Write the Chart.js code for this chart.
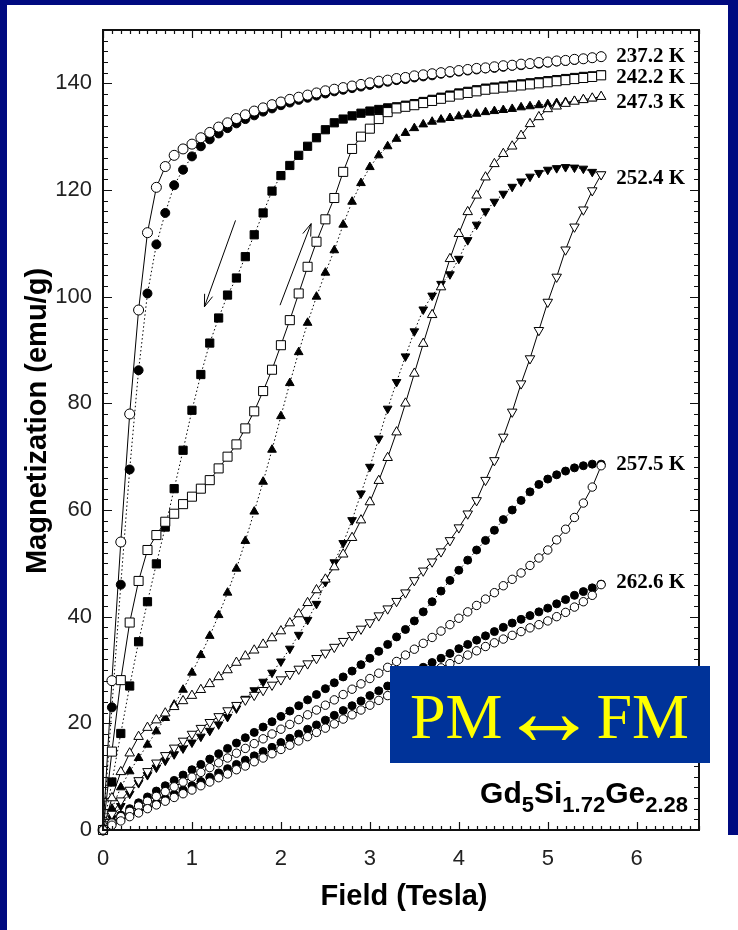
<!DOCTYPE html>
<html>
<head>
<meta charset="utf-8">
<script src="https://cdn.jsdelivr.net/npm/chart.js@4.4.1/dist/chart.umd.min.js"></script>
<style>
  body { margin: 0; background: #fff; }
  #wrap { position: relative; width: 738px; height: 930px; overflow: hidden; background: #fff; }
  .edge { position: absolute; background: #000a80; }
</style>
</head>
<body>
<div id="wrap">
  <canvas id="chart" width="738" height="930"></canvas>
  <div class="edge" style="left:0;top:0;width:738px;height:5px"></div>
  <div class="edge" style="left:0;top:0;width:7px;height:930px"></div>
  <div class="edge" style="left:728px;top:0;width:10px;height:835px"></div>
</div>
<script>
// applied field (Tesla), same grid for every branch
const field = [0, 0.1, 0.2, 0.3, 0.4, 0.5, 0.6, 0.7, 0.8, 0.9,
  1.0, 1.1, 1.2, 1.3, 1.4, 1.5, 1.6, 1.7, 1.8, 1.9,
  2.0, 2.1, 2.2, 2.3, 2.4, 2.5, 2.6, 2.7, 2.8, 2.9,
  3.0, 3.1, 3.2, 3.3, 3.4, 3.5, 3.6, 3.7, 3.8, 3.9,
  4.0, 4.1, 4.2, 4.3, 4.4, 4.5, 4.6, 4.7, 4.8, 4.9,
  5.0, 5.1, 5.2, 5.3, 5.4, 5.5, 5.6];

// magnetization (emu/g): "Up" = open symbols, solid line; "Down" = filled symbols, dotted line
const m237Up = [0, 28, 54, 78, 97.5, 112, 120.5, 124.4, 126.5, 127.7,
  128.6, 129.8, 130.8, 131.8, 132.6, 133.4, 134.1, 134.8, 135.4, 136,
  136.5, 137, 137.4, 137.8, 138.2, 138.6, 138.9, 139.2, 139.5, 139.8,
  140.1, 140.4, 140.6, 140.9, 141.1, 141.4, 141.6, 141.8, 142, 142.2,
  142.4, 142.6, 142.8, 142.9, 143.1, 143.3, 143.4, 143.6, 143.7, 143.9,
  144, 144.2, 144.3, 144.5, 144.6, 144.8, 145];
const m237Down = [0, 23, 46, 67.6, 86.2, 100.6, 109.8, 115.7, 120.9, 123.8,
  126.3, 128.2, 129.5, 130.6, 131.6, 132.5, 133.3, 134, 134.7, 135.3,
  135.9, 136.4, 136.9, 137.3, 137.7, 138.1, 138.5, 138.8, 139.1, 139.4,
  139.7, 140, 140.3, 140.6, 140.8, 141.1, 141.3, 141.5, 141.8, 142,
  142.2, 142.4, 142.6, 142.8, 142.9, 143.1, 143.3, 143.4, 143.6, 143.7,
  143.9, 144.1, 144.2, 144.4, 144.6, 144.8, 145];
const m242Up = [0, 14.7, 28.1, 38.9, 46.7, 52.5, 55.3, 57.8, 59.3, 61.1,
  62.5, 64, 65.6, 67.8, 70, 72.3, 75.3, 78.5, 82.3, 86.3,
  90.9, 95.6, 100.6, 105.6, 110.3, 114.5, 118.5, 123.4, 127.7, 130,
  131.5, 133.3, 134.6, 135.3, 135.6, 135.9, 136.3, 136.7, 137.1, 137.5,
  137.9, 138.2, 138.5, 138.8, 139, 139.2, 139.4, 139.6, 139.8, 140,
  140.2, 140.4, 140.6, 140.8, 141, 141.2, 141.5];
const m242Down = [0, 9, 18.1, 27, 35.3, 42.8, 49.9, 56.8, 64, 71.2,
  78.7, 85.4, 91.3, 96, 100.3, 103.5, 107.5, 111.6, 115.7, 119.8,
  122.7, 124.6, 126.5, 128.2, 129.8, 131.3, 132.6, 133.3, 133.9, 134.4,
  134.8, 135.1, 135.4, 135.6, 135.9, 136.2, 136.6, 137, 137.4, 137.8,
  138.2, 138.5, 138.8, 139.1, 139.3, 139.5, 139.7, 139.9, 140.1, 140.3,
  140.5, 140.7, 140.9, 141.1, 141.3, 141.4, 141.6];
const m247Up = [0, 6, 10.9, 14.4, 17.5, 19.2, 20.6, 21.9, 23.1, 24.2,
  25.2, 26.3, 27.4, 28.7, 30, 31.4, 32.6, 33.7, 34.8, 36,
  37.3, 38.8, 40.5, 42.6, 45, 47, 49.3, 51.7, 54.8, 58.1,
  61.5, 65.5, 69.8, 74.6, 80, 85.6, 91.2, 96.6, 101.8, 107.1,
  111.8, 115.9, 119, 122.4, 124.9, 126.8, 128.2, 130.2, 132.4, 133.7,
  135.2, 135.7, 136.2, 136.6, 136.9, 137.2, 137.5];
const m247Down = [0, 4, 8, 11, 13.5, 16, 18.5, 21, 23.5, 26.3,
  29.5, 32.8, 36.4, 40.3, 44.5, 49, 54.2, 59.7, 65.3, 71.3,
  77.6, 83.8, 89.6, 95.1, 100, 104.5, 108.7, 113.5, 117.8, 121.3,
  124.3, 126.5, 128.2, 129.6, 130.7, 131.6, 132.3, 132.8, 133.2, 133.5,
  133.8, 134.1, 134.3, 134.6, 134.8, 135, 135.2, 135.5, 135.7, 135.9,
  136.1, 136.3, 136.5, 136.7, 137, 137.2, 137.5];
const m252Up = [0, 3, 5.5, 7.5, 9.3, 11, 12.6, 14, 15.4, 16.7,
  18, 19.1, 20.2, 21.3, 22.4, 23.4, 24.4, 25.3, 26.2, 27.2,
  28.2, 29.2, 30.2, 31.2, 32.2, 33.2, 34.3, 35.4, 36.5, 37.7,
  38.9, 40.2, 41.5, 42.9, 44.5, 46.8, 48.6, 50.3, 52.2, 54.3,
  56.7, 59.3, 61.8, 65.6, 69.3, 73.7, 78.4, 83.7, 88.4, 93.7,
  99, 103.7, 108.8, 113.1, 116.3, 119.9, 122.9];
const m252Down = [0, 2.2, 4.5, 6.8, 8.8, 10.3, 11.7, 13, 14.2, 15.3,
  16.4, 17.5, 18.6, 19.8, 21.2, 22.8, 24.6, 26.2, 27.8, 29.5,
  31.6, 34, 36.6, 39.4, 42.4, 46.5, 50.2, 53.8, 58.1, 63.1,
  68.1, 73.4, 79, 84, 88.8, 93.5, 97.6, 100.2, 102.4, 104.2,
  107.1, 110.6, 113.5, 116, 117.8, 119.3, 120.6, 121.6, 122.5, 123.2,
  123.8, 124.1, 124.3, 124.2, 124, 123.4, 122.9];
const m257Up = [0, 1.3, 2.5, 3.5, 4.5, 5.4, 6.3, 7.2, 8.1, 9,
  9.9, 10.8, 11.7, 12.6, 13.5, 14.4, 15.3, 16.2, 17.1, 18,
  18.9, 19.8, 20.7, 21.6, 22.5, 23.4, 24.4, 25.4, 26.4, 27.4,
  28.4, 29.4, 30.5, 31.6, 32.8, 33.9, 35, 36.1, 37.3, 38.5,
  39.7, 40.9, 42.1, 43.3, 44.5, 45.8, 47, 48.2, 49.6, 51,
  52.5, 54.4, 56.4, 58.6, 61.3, 64.3, 68.3];
const m257Down = [0, 1.5, 2.8, 4, 5.1, 6.2, 7.3, 8.3, 9.3, 10.3,
  11.3, 12.3, 13.3, 14.3, 15.3, 16.3, 17.3, 18.3, 19.3, 20.3,
  21.3, 22.3, 23.3, 24.4, 25.4, 26.5, 27.6, 28.7, 29.8, 31,
  32.2, 33.5, 34.8, 36.2, 37.6, 39.2, 40.9, 42.8, 44.8, 46.8,
  48.7, 50.6, 52.5, 54.3, 56.2, 58.2, 60, 61.8, 63.4, 64.8,
  65.8, 66.6, 67.3, 67.9, 68.3, 68.6, 68.6];
const m262Up = [0, 0.9, 1.7, 2.5, 3.2, 4, 4.7, 5.4, 6.1, 6.8,
  7.5, 8.3, 9, 9.8, 10.5, 11.3, 12, 12.8, 13.5, 14.3,
  15.1, 15.9, 16.7, 17.5, 18.3, 19.1, 19.9, 20.8, 21.6, 22.5,
  23.4, 24.3, 25.2, 26.1, 27, 27.8, 28.7, 29.5, 30.4, 31.2,
  32, 32.8, 33.6, 34.4, 35.1, 35.8, 36.5, 37.2, 37.9, 38.5,
  39.2, 40, 40.8, 41.8, 42.8, 44, 46];
const m262Down = [0, 1, 1.9, 2.7, 3.5, 4.3, 5.1, 5.9, 6.7, 7.5,
  8.3, 9.1, 9.9, 10.7, 11.5, 12.3, 13.1, 13.9, 14.7, 15.5,
  16.4, 17.2, 18, 18.9, 19.7, 20.6, 21.5, 22.4, 23.3, 24.2,
  25.2, 26.1, 27, 27.9, 28.8, 29.7, 30.5, 31.4, 32.2, 33.1,
  34, 34.8, 35.6, 36.4, 37.2, 38, 38.8, 39.5, 40.2, 40.9,
  41.6, 42.4, 43.2, 44, 44.7, 45.4, 46.1];

const tempLabels = ['237.2 K', '242.2 K', '247.3 K', '252.4 K', '257.5 K', '262.6 K'];
const xTicks = [0, 1, 2, 3, 4, 5, 6];
const yTicks = [0, 20, 40, 60, 80, 100, 120, 140];

function branch(vals, symbol, size, open, rot) {
  return {
    data: vals.map((m, i) => ({ x: field[i], y: m })),
    showLine: true,
    borderColor: '#000',
    borderWidth: 1,
    borderDash: open ? [] : [1.5, 2.5],
    pointStyle: symbol,
    pointRadius: size,
    pointRotation: rot || 0,
    pointBackgroundColor: open ? '#fff' : '#000',
    pointBorderColor: '#000',
    pointBorderWidth: 1,
    order: open ? 0 : 1,
    clip: false
  };
}

const datasets = [
  branch(m262Down, 'circle', 4, false),
  branch(m262Up, 'circle', 4.2, true),
  branch(m257Down, 'circle', 4, false),
  branch(m257Up, 'circle', 4.2, true),
  branch(m252Down, 'triangle', 5, false, 180),
  branch(m252Up, 'triangle', 5.5, true, 180),
  branch(m247Down, 'triangle', 5, false),
  branch(m247Up, 'triangle', 5.5, true),
  branch(m242Down, 'rect', 5.8, false),
  branch(m242Up, 'rect', 6.4, true),
  branch(m237Down, 'circle', 4.5, false),
  branch(m237Up, 'circle', 5, true)
];

// label i sits at the end of this branch, nudged down by a few px
const labelEnds = [m237Up, m242Down, m247Down, m252Up, m257Down, m262Down];
const labelNudge = [0, 3, 6, 4, 0, -2];

// hysteresis arrows, in field / magnetization units
const arrows = [
  { from: [1.49, 114.3], to: [1.14, 98.1] },
  { from: [1.99, 98.4], to: [2.34, 113.7] }
];

const decor = {
  id: 'decor',
  afterDraw(chart) {
    const { ctx, chartArea: a, scales: { x, y } } = chart;
    ctx.save();

    // tick marks, inside on all four sides
    ctx.strokeStyle = '#111';
    ctx.lineWidth = 1.2;
    ctx.beginPath();
    for (let i = 0; i <= 67; i++) {
      const px = Math.round(x.getPixelForValue(i / 10)) + 0.5;
      const len = i % 10 === 0 ? 8 : 4;
      ctx.moveTo(px, a.bottom); ctx.lineTo(px, a.bottom - len);
      ctx.moveTo(px, a.top); ctx.lineTo(px, a.top + len);
    }
    for (let v = 0; v <= 150; v += 2) {
      const py = Math.round(y.getPixelForValue(v)) + 0.5;
      const len = v % 20 === 0 ? 9 : 5;
      ctx.moveTo(a.left, py); ctx.lineTo(a.left + len, py);
      ctx.moveTo(a.right, py); ctx.lineTo(a.right - len, py);
    }
    ctx.stroke();

    // frame
    ctx.lineWidth = 2;
    ctx.strokeRect(a.left, a.top, a.right - a.left, a.bottom - a.top);

    // arrows
    ctx.lineWidth = 1;
    ctx.strokeStyle = '#000';
    arrows.forEach(ar => {
      const x0 = x.getPixelForValue(ar.from[0]), y0 = y.getPixelForValue(ar.from[1]);
      const x1 = x.getPixelForValue(ar.to[0]), y1 = y.getPixelForValue(ar.to[1]);
      const ang = Math.atan2(y1 - y0, x1 - x0);
      ctx.beginPath();
      ctx.moveTo(x0, y0); ctx.lineTo(x1, y1);
      ctx.moveTo(x1 - 13 * Math.cos(ang - 0.33), y1 - 13 * Math.sin(ang - 0.33));
      ctx.lineTo(x1, y1);
      ctx.lineTo(x1 - 13 * Math.cos(ang + 0.33), y1 - 13 * Math.sin(ang + 0.33));
      ctx.stroke();
    });

    // temperature labels
    ctx.fillStyle = '#000';
    ctx.font = 'bold 21px "Liberation Serif"';
    ctx.textAlign = 'left';
    ctx.textBaseline = 'middle';
    tempLabels.forEach((t, i) => {
      const ends = labelEnds[i];
      const px = x.getPixelForValue(field[field.length - 1]) + 15;
      const py = y.getPixelForValue(ends[ends.length - 1]) + labelNudge[i];
      ctx.fillText(t, px, py);
    });

    // axis titles
    ctx.font = 'bold 29px "Liberation Sans"';
    ctx.textAlign = 'center';
    ctx.fillText('Field (Tesla)', 404, 897);
    ctx.save();
    ctx.translate(38, 421);
    ctx.rotate(-Math.PI / 2);
    ctx.fillText('Magnetization (emu/g)', 0, 0);
    ctx.restore();

    // compound
    ctx.textAlign = 'left';
    ctx.textBaseline = 'alphabetic';
    const parts = [['Gd', 0], ['5', 1], ['Si', 0], ['1.72', 1], ['Ge', 0], ['2.28', 1]];
    const big = 'bold 30px "Liberation Sans"', small = 'bold 22px "Liberation Sans"';
    let w = 0;
    parts.forEach(p => { ctx.font = p[1] ? small : big; w += ctx.measureText(p[0]).width; });
    let cx = 688 - w;
    parts.forEach(p => {
      ctx.font = p[1] ? small : big;
      ctx.fillText(p[0], cx, p[1] ? 812 : 803);
      cx += ctx.measureText(p[0]).width;
    });

    // PM <-> FM box
    ctx.fillStyle = '#003399';
    ctx.fillRect(390, 666, 320, 97);
    ctx.fillStyle = '#ffff00';
    ctx.font = '64px "Liberation Serif"';
    ctx.textAlign = 'left';
    ctx.fillText('PM', 410, 738);
    ctx.textAlign = 'right';
    ctx.fillText('FM', 689, 738);
    ctx.textAlign = 'center';
    ctx.font = '100px "Liberation Serif"';
    ctx.fillText('\u2194', 549, 745);

    ctx.restore();
  }
};

new Chart(document.getElementById('chart'), {
  type: 'scatter',
  data: { datasets: datasets },
  options: {
    responsive: false,
    devicePixelRatio: 1,
    animation: false,
    layout: { padding: { top: 30, right: 39, left: 0, bottom: 0 } },
    plugins: { legend: { display: false }, tooltip: { enabled: false } },
    scales: {
      x: {
        type: 'linear', min: 0, max: 6.7,
        afterFit: s => { s.height = 100; },
        afterBuildTicks: s => { s.ticks = xTicks.map(v => ({ value: v })); },
        ticks: { padding: 8, maxRotation: 0, color: '#222', font: { family: 'Liberation Sans', size: 22 } },
        grid: { display: false },
        border: { display: false }
      },
      y: {
        type: 'linear', min: 0, max: 150,
        afterFit: s => { s.width = 103; },
        afterBuildTicks: s => { s.ticks = yTicks.map(v => ({ value: v })); },
        ticks: { padding: 3, color: '#222', font: { family: 'Liberation Sans', size: 22 } },
        grid: { display: false },
        border: { display: false }
      }
    }
  },
  plugins: [decor]
});
</script>
</body>
</html>
